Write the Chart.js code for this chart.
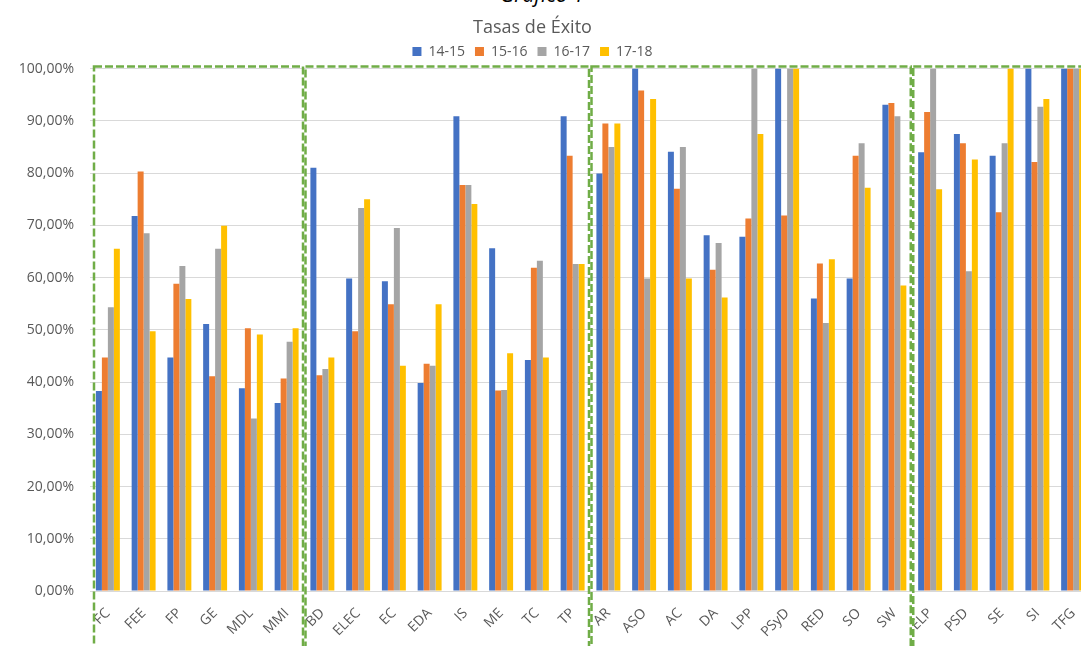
<!DOCTYPE html>
<html lang="es">
<head>
<meta charset="utf-8">
<title>Tasas de Éxito</title>
<script src="https://cdn.jsdelivr.net/npm/chart.js@4.4.0/dist/chart.umd.min.js"></script>
<style>
  html, body { margin: 0; padding: 0; background: #fff; overflow: hidden; }
  #wrap { position: relative; width: 1081px; height: 646px; overflow: hidden; }
  #caption { position: absolute; top: -16px; left: 500px; font: italic 21px "Open Sans", sans-serif; color: #000; line-height: 1; white-space: nowrap; }
  canvas { position: absolute; left: 0; top: 0; }
</style>
</head>
<body>
<div id="wrap">
  <div id="caption">Gráfico 1</div>
  <canvas id="chart" width="1092" height="646"></canvas>
</div>
<script>
// Asignaturas (eje X)
const labels = ['FC', 'FEE', 'FP', 'GE', 'MDL', 'MMI',
  'BD', 'ELEC', 'EC', 'EDA', 'IS', 'ME', 'TC', 'TP',
  'AR', 'ASO', 'AC', 'DA', 'LPP', 'PSyD', 'RED', 'SO', 'SW',
  'ELP', 'PSD', 'SE', 'SI', 'TFG'];

// Tasas de éxito (%) por curso
const curso1415 = [38.3, 71.8, 44.7, 51.1, 38.8, 36.0,
  81.0, 59.8, 59.3, 39.8, 90.9, 65.6, 44.2, 90.9,
  79.9, 100, 84.1, 68.1, 67.8, 100, 56.0, 59.8, 93.1,
  84.0, 87.5, 83.3, 100, 100];
const curso1516 = [44.7, 80.3, 58.8, 41.1, 50.3, 40.7,
  41.3, 49.7, 54.9, 43.5, 77.7, 38.4, 61.9, 83.3,
  89.5, 95.8, 77.0, 61.5, 71.3, 71.9, 62.7, 83.3, 93.4,
  91.7, 85.7, 72.5, 82.1, 100];
const curso1617 = [54.3, 68.5, 62.2, 65.5, 33.0, 47.7,
  42.5, 73.3, 69.5, 43.1, 77.7, 38.5, 63.2, 62.6,
  85.0, 59.8, 85.0, 66.6, 100, 100, 51.3, 85.7, 90.9,
  100, 61.2, 85.7, 92.7, 100];
const curso1718 = [65.5, 49.7, 55.9, 69.9, 49.1, 50.3,
  44.7, 75.0, 43.1, 54.9, 74.1, 45.5, 44.7, 62.6,
  89.5, 94.2, 59.8, 56.2, 87.5, 100, 63.5, 77.2, 58.5,
  76.9, 82.6, 100, 94.2, 100];

// Primer índice de cada bloque (cajas verdes)
const groupStarts = [0, 6, 14, 23];

const textColor = '#595959';
const fontFamily = '"Open Sans", sans-serif';

// Cajas discontinuas verdes alrededor de cada bloque
const groupBoxes = {
  id: 'groupBoxes',
  afterDraw(chart) {
    const ctx = chart.ctx;
    const x = chart.scales.x;
    const area = chart.chartArea;
    const half = (x.getPixelForValue(1) - x.getPixelForValue(0)) / 2;
    const edge = i => x.getPixelForValue(i) - half;
    ctx.save();
    ctx.strokeStyle = '#70AD47';
    ctx.lineWidth = 2.5;
    ctx.setLineDash([8, 3]);
    groupStarts.forEach((start, g) => {
      const end = g + 1 < groupStarts.length ? groupStarts[g + 1] : labels.length;
      const left = start === 0 ? area.left + 4 : edge(start) + 1;
      const right = end === labels.length ? area.right + 6 : edge(end) - 1.5;
      ctx.strokeRect(left, area.top - 2, right - left, chart.height);
    });
    ctx.restore();
  }
};

new Chart(document.getElementById('chart').getContext('2d'), {
  type: 'bar',
  data: {
    labels: labels,
    datasets: [
      { label: '14-15', data: curso1415, backgroundColor: '#4472C4' },
      { label: '15-16', data: curso1516, backgroundColor: '#ED7D31' },
      { label: '16-17', data: curso1617, backgroundColor: '#A5A5A5' },
      { label: '17-18', data: curso1718, backgroundColor: '#FFC000' }
    ]
  },
  options: {
    responsive: false,
    animation: false,
    devicePixelRatio: 1,
    datasets: {
      bar: { categoryPercentage: 0.67, barPercentage: 1.0 }
    },
    layout: { padding: { left: -26, right: 1, top: 0, bottom: 0 } },
    plugins: {
      title: {
        display: true,
        text: 'Tasas de Éxito',
        color: textColor,
        font: { family: fontFamily, size: 18, weight: 'normal' },
        padding: { top: 17, bottom: -4 }
      },
      legend: {
        display: true,
        labels: {
          color: textColor,
          font: { family: fontFamily, size: 14 },
          boxWidth: 9,
          boxHeight: 9,
          padding: 10
        }
      },
      tooltip: { enabled: false }
    },
    scales: {
      x: {
        grid: { display: false },
        border: { color: '#d9d9d9' },
        ticks: {
          color: textColor,
          font: { family: fontFamily, size: 14 },
          maxRotation: 45,
          minRotation: 45,
          padding: 6,
          autoSkip: false
        },
        afterFit(scale) { scale.height = 55; }
      },
      y: {
        min: 0,
        max: 100,
        grid: { color: '#d9d9d9', drawTicks: false },
        border: { display: false },
        ticks: {
          stepSize: 10,
          color: textColor,
          font: { family: fontFamily, size: 14 },
          padding: 16,
          callback: value => value.toFixed(2).replace('.', ',') + '%'
        },
        afterFit(scale) { scale.width = 116; }
      }
    }
  },
  plugins: [groupBoxes]
});
</script>
</body>
</html>
